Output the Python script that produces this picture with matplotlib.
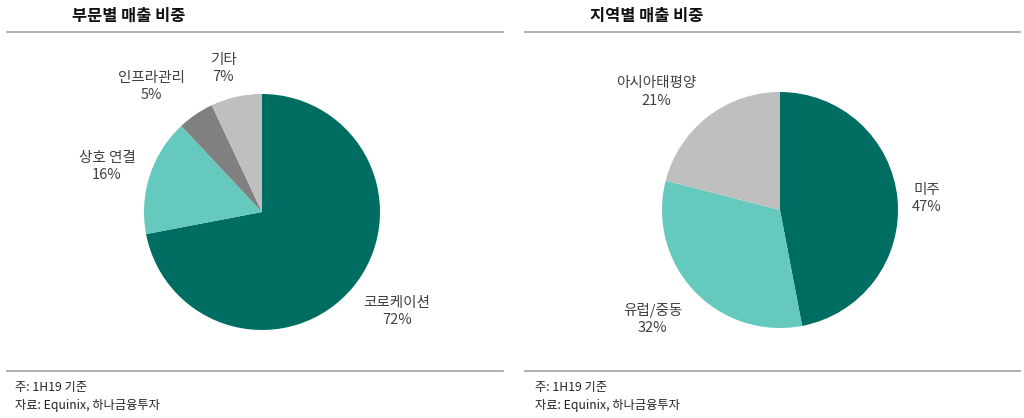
import numpy as np
import matplotlib
matplotlib.use("Agg")
import matplotlib.pyplot as plt
from matplotlib.lines import Line2D

plt.rcParams['font.family'] = ['Noto Sans CJK KR', 'DejaVu Sans']

# ---- data ----
seg_labels = ['코로케이션', '상호 연결', '인프라관리', '기타']
seg_values = [72, 16, 5, 7]
reg_labels = ['미주', '유럽/중동', '아시아태평양']
reg_values = [47, 32, 21]
titles = ['부문별 매출 비중', '지역별 매출 비중']
note1 = '주: 1H19 기준'
note2 = '자료: Equinix, 하나금융투자'

# ---- style ----
seg_colors = ['#006d62', '#66c9bd', '#808080', '#bfbfbf']
reg_colors = ['#006d62', '#66c9bd', '#bfbfbf']
seg_dist = [1.42, 1.37, 1.42, 1.26]
seg_dang = [3.3, 1.5, 7.2, 2.4]
reg_dist = [1.25, 1.42, 1.45]
reg_dang = [-1.1, -2.8, 8.6]

W, H = 1024, 418
fig = plt.figure(figsize=(W / 100, H / 100), dpi=100)
R = 118.0


def make_ax(cx, cy_top):
    cy = H - cy_top
    aw, ah = 400, 300
    ax = fig.add_axes([(cx - aw / 2) / W, (cy - ah / 2) / H, aw / W, ah / H])
    return ax, aw / 2 / R, ah / 2 / R


def draw_pie(ax, xl, yl, values, labels, colors, dists, dangs):
    wedges, _ = ax.pie(values, colors=colors, startangle=90, counterclock=False,
                       radius=1.0, wedgeprops=dict(linewidth=0))
    total = float(sum(values))
    for w, lab, v, d, da in zip(wedges, labels, values, dists, dangs):
        ang = np.deg2rad((w.theta1 + w.theta2) / 2 + da)
        ax.text(d * np.cos(ang), d * np.sin(ang), f'{lab}\n{int(round(v / total * 100))}%',
                ha='center', va='center', fontsize=10.5, color='#404040', linespacing=1.28)
    ax.set_xlim(-xl, xl)
    ax.set_ylim(-yl, yl)
    ax.set_aspect('auto')
    ax.axis('off')


ax1, xl1, yl1 = make_ax(262, 212)
draw_pie(ax1, xl1, yl1, seg_values, seg_labels, seg_colors, seg_dist, seg_dang)
ax2, xl2, yl2 = make_ax(780, 210)
draw_pie(ax2, xl2, yl2, reg_values, reg_labels, reg_colors, reg_dist, reg_dang)

# titles
fig.text(72 / W, 1 - 16 / H, titles[0], fontsize=11.8, fontweight='bold', ha='left', va='center', color='#111111')
fig.text(590 / W, 1 - 16 / H, titles[1], fontsize=11.8, fontweight='bold', ha='left', va='center', color='#111111')

# horizontal rules
for x0, x1 in [(7, 503), (525, 1020)]:
    for y in (32, 371):
        fig.add_artist(Line2D([x0 / W, x1 / W], [1 - y / H, 1 - y / H], color='#a0a0a0', linewidth=1.2))

# footnotes
for x0 in (15, 535):
    fig.text(x0 / W, 1 - 387 / H, note1, fontsize=8.8, ha='left', va='center', color='#222222')
    fig.text(x0 / W, 1 - 406 / H, note2, fontsize=8.8, ha='left', va='center', color='#222222')

fig.savefig('out.png', dpi=100, facecolor='white')
